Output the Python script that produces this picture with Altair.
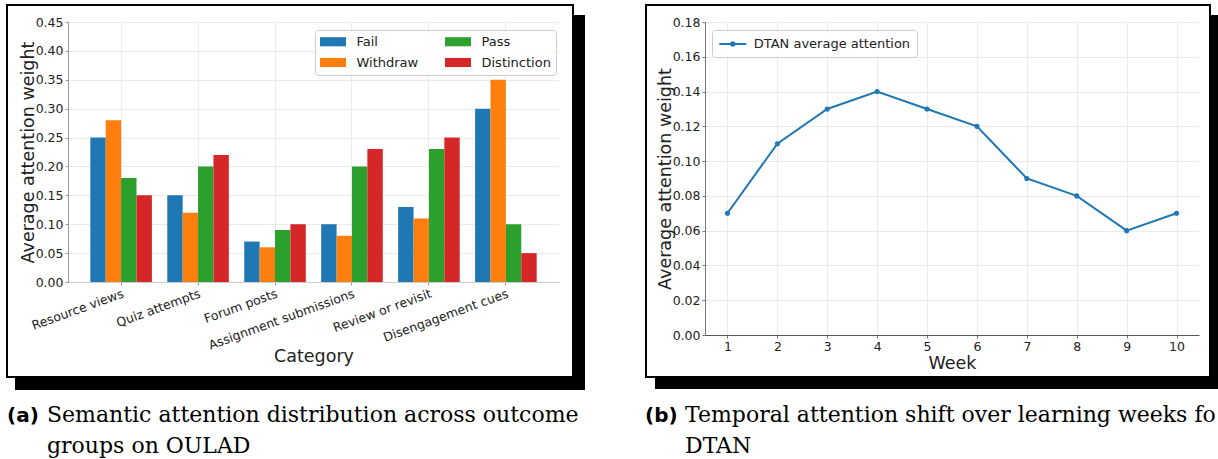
import altair as alt
import pandas as pd

# ---------------- data ----------------
categories = ["Resource views", "Quiz attempts", "Forum posts",
              "Assignment submissions", "Review or revisit", "Disengagement cues"]
outcomes = ["Fail", "Withdraw", "Pass", "Distinction"]
fail = [0.25, 0.15, 0.07, 0.10, 0.13, 0.30]
withdraw = [0.28, 0.12, 0.06, 0.08, 0.11, 0.35]
pass_ = [0.18, 0.20, 0.09, 0.20, 0.23, 0.10]
distinction = [0.15, 0.22, 0.10, 0.23, 0.25, 0.05]

weeks = [1, 2, 3, 4, 5, 6, 7, 8, 9, 10]
dtan_attention = [0.07, 0.11, 0.13, 0.14, 0.13, 0.12, 0.09, 0.08, 0.06, 0.07]

y_ticks_a = [0.0, 0.05, 0.10, 0.15, 0.20, 0.25, 0.30, 0.35, 0.40, 0.45]
y_ticks_b = [0.0, 0.02, 0.04, 0.06, 0.08, 0.10, 0.12, 0.14, 0.16, 0.18]

caption_a = ["Semantic attention distribution across outcome", "groups on OULAD"]
caption_b = ["Temporal attention shift over learning weeks for", "DTAN"]

colors = ["#1f77b4", "#ff7f0e", "#2ca02c", "#d62728"]

series_by_outcome = {"Fail": fail, "Withdraw": withdraw, "Pass": pass_, "Distinction": distinction}
rows = []
for o in outcomes:
    for c, v in zip(categories, series_by_outcome[o]):
        rows.append({"Category": c, "Outcome": o, "Value": v})
df_bar = pd.DataFrame(rows)
df_line = pd.DataFrame({"Week": weeks, "Attention": dtan_attention,
                        "Series": ["DTAN average attention"] * len(weeks)})
one = pd.DataFrame({"k": [0]})

TXT = "#222222"
GRID = "#e6e6e6"
FONT = "DejaVu Sans"
TITLE_FS = 17.5


def rect(x1, x2, y1, y2, **mk):
    return alt.Chart(one).mark_rect(**mk).encode(
        x=alt.value(x1), x2=alt.value(x2), y=alt.value(y1), y2=alt.value(y2))


def text(t, x, y, **mk):
    return alt.Chart(one).mark_text(text=t, align="left", baseline="alphabetic", **mk).encode(
        x=alt.value(x), y=alt.value(y))


W_A, H_A = 491, 260
W_B, H_B = 494, 313
SPACING = 146

# ---------------- panel (a) ----------------
bars = alt.Chart(df_bar).mark_bar().encode(
    x=alt.X("Category:N", sort=categories,
            scale=alt.Scale(paddingInner=0.2, paddingOuter=0.29),
            axis=alt.Axis(title="Category", labelAngle=-20, labelAlign="right",
                          labelBaseline="top", bandPosition=0.5, grid=True, gridColor=GRID,
                          gridWidth=0.8, labelOverlap=False, labelFontSize=12.5,
                          labelColor=TXT, labelPadding=2, tickSize=3, tickColor="#999999",
                          domainColor="#cccccc", titleFontSize=TITLE_FS, titleColor=TXT,
                          titleFontWeight="normal", titleY=65, titleBaseline="top")),
    xOffset=alt.XOffset("Outcome:N", scale=alt.Scale(domain=outcomes)),
    y=alt.Y("Value:Q", scale=alt.Scale(domain=[0, 0.45], nice=False),
            axis=alt.Axis(title="Average attention weight", values=y_ticks_a, format=".2f",
                          grid=True, gridColor=GRID, gridWidth=0.8, labelFontSize=12.5,
                          labelColor=TXT, labelPadding=2, tickSize=3, tickColor="#999999",
                          domainColor="#999999", titleFontSize=TITLE_FS, titleColor=TXT,
                          titleFontWeight="normal", titleX=-35, titleY=H_A / 2,
                          titleBaseline="alphabetic", titleAlign="center", titleAngle=270)),
    color=alt.Color("Outcome:N",
                    scale=alt.Scale(domain=outcomes, range=colors),
                    legend=alt.Legend(title=None, orient="none", legendX=247, legendY=8,
                                      columns=2, symbolType="M-2,-0.7L2,-0.7L2,0.7L-2,0.7Z",
                                      symbolSize=169, symbolStrokeWidth=0, symbolOffset=6.5,
                                      labelOffset=17, labelFontSize=13, labelColor=TXT,
                                      labelFont=FONT, padding=5, rowPadding=7, columnPadding=26,
                                      fillColor="rgba(255,255,255,0.85)", strokeColor="#cccccc",
                                      cornerRadius=3)),
)

left = alt.layer(
    rect(-68, 1150, -22, 437, opacity=0),
    rect(505, 517, -7, 368, color="black"),
    rect(-53, 517, 355, 368, color="black"),
    rect(-61, 505, -17, 355, fillOpacity=0, stroke="black", strokeWidth=2),
    bars,
    text("(a)", -61, 399.7, font=FONT, fontWeight="bold", fontSize=20, color="black"),
    text(caption_a[0], -21, 399.7, font="DejaVu Serif", fontSize=22, color="black"),
    text(caption_a[1], -21, 431.3, font="DejaVu Serif", fontSize=22, color="black"),
).properties(width=W_A, height=H_A)

# ---------------- panel (b) ----------------
xb = alt.X("Week:Q", scale=alt.Scale(domain=[0.55, 10.45], nice=False, zero=False),
           axis=alt.Axis(title="Week", values=weeks, format="d", grid=True, gridColor=GRID,
                         gridWidth=0.8, labelFontSize=12.5, labelColor=TXT, labelPadding=2,
                         tickSize=3, tickColor="#777777", domainColor="#555555",
                         titleFontSize=TITLE_FS, titleColor=TXT, titleFontWeight="normal",
                         titleY=19, titleBaseline="top", labelFlush=False))
yb = alt.Y("Attention:Q", scale=alt.Scale(domain=[0, 0.18], nice=False),
           axis=alt.Axis(title="Average attention weight", values=y_ticks_b, format=".2f",
                         grid=True, gridColor=GRID, gridWidth=0.8, labelFontSize=12.5,
                         labelColor=TXT, labelPadding=2, tickSize=3, tickColor="#777777",
                         domainColor="#777777", titleFontSize=TITLE_FS, titleColor=TXT,
                         titleFontWeight="normal", titleX=-35, titleY=H_B / 2,
                         titleBaseline="alphabetic", titleAlign="center", titleAngle=270,
                         labelFlush=False))

line = alt.Chart(df_line).mark_line(strokeWidth=2).encode(
    x=xb, y=yb,
    color=alt.Color("Series:N", scale=alt.Scale(range=["#1f77b4"]),
                    legend=alt.Legend(title=None, orient="none", legendX=7, legendY=8,
                                      symbolType="M-2,0L2,0M0.25,0A0.25,0.25,0,1,1,-0.25,0A0.25,0.25,0,1,1,0.25,0Z",
                                      symbolSize=182, symbolStrokeWidth=2, symbolOffset=6.75,
                                      labelOffset=13, labelFontSize=13, labelColor=TXT,
                                      labelFont=FONT, padding=6,
                                      fillColor="rgba(255,255,255,0.85)", strokeColor="#cccccc",
                                      cornerRadius=3)),
)
pts = alt.Chart(df_line).mark_point(filled=True, size=26, opacity=1).encode(
    x=xb, y=yb, color=alt.value("#1f77b4"))

right = alt.layer(
    rect(505, 513, -7, 367, color="black"),
    rect(-50, 513, 355, 367, color="black"),
    rect(-59, 505, -17, 355, fillOpacity=0, stroke="black", strokeWidth=2),
    line, pts,
    text("(b)", -60, 399.7, font=FONT, fontWeight="bold", fontSize=20, color="black"),
    text(caption_b[0], -20, 399.7, font="DejaVu Serif", fontSize=22, color="black",
         limit=533, ellipsis="\u200b"),
    text(caption_b[1], -20, 431.3, font="DejaVu Serif", fontSize=22, color="black"),
).properties(width=W_B, height=H_B)

chart = alt.hconcat(left, right, spacing=SPACING, bounds="flush").resolve_scale(
    color="independent").resolve_legend(color="independent").properties(
    padding=0, background="white").configure_view(strokeWidth=0).configure_axis(
    labelFont=FONT, titleFont=FONT)

chart.save("out.html", embed_options={"renderer": "svg", "actions": False})
